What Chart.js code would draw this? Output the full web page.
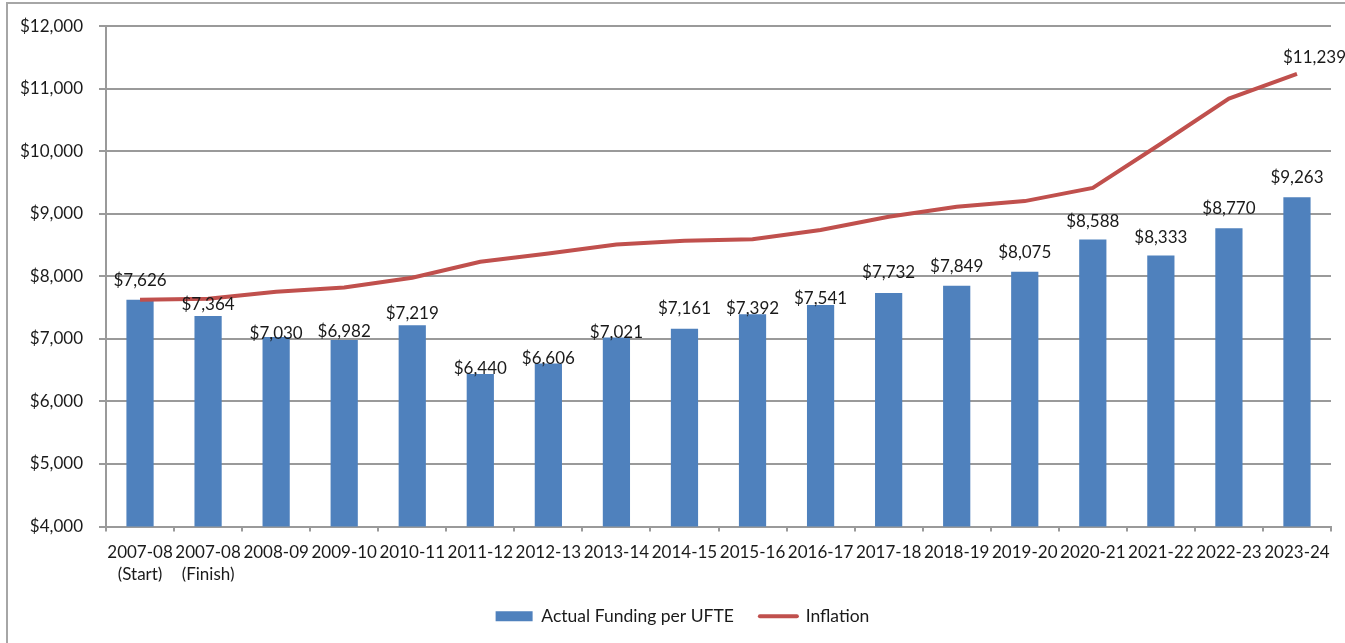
<!DOCTYPE html>
<html>
<head>
<meta charset="utf-8">
<script src="https://cdn.jsdelivr.net/npm/chart.js@4.4.0/dist/chart.umd.min.js"></script>
<style>
    html, body { margin: 0; padding: 0; background: #fff; }
    #frame {
        position: absolute; left: 6px; top: 2px; width: 1400px; height: 700px;
        border-left: 2px solid #a6a6a6; border-top: 2px solid #a6a6a6;
    }
    #chart { position: absolute; left: 0; top: 0; }
</style>
</head>
<body>
<div id="frame"></div>
<canvas id="chart" width="1345" height="643"></canvas>
<script>
// Data
const categories = [
    ['2007-08', '(Start)'], ['2007-08', '(Finish)'], '2008-09', '2009-10', '2010-11',
    '2011-12', '2012-13', '2013-14', '2014-15', '2015-16', '2016-17', '2017-18',
    '2018-19', '2019-20', '2020-21', '2021-22', '2022-23', '2023-24'
];
const fundingPerUfte = [7626, 7364, 7030, 6982, 7219, 6440, 6606, 7021, 7161, 7392,
    7541, 7732, 7849, 8075, 8588, 8333, 8770, 9263];
const inflation = [7626, 7640, 7754, 7823, 7978, 8233, 8366, 8510, 8569, 8595,
    8740, 8952, 9112, 9203, 9415, 10121, 10842, 11239];
const yMin = 4000;
const yMax = 12000;
const yStep = 1000;

// gap (px) between a bar top and its label baseline; the original moved some by hand
const labelGap = [14, 6, -2, 3, 6, 0, 0, 0, 15, 0, 1, 15, 14, 14, 13, 13, 14, 14];

const BLUE = '#4F81BD';
const RED = '#C0504D';
const GRID = '#9a9a9a';
const TEXT = '#1a1a1a';
const FONT = { family: 'Lato', size: 17 };

const money = v => '$' + Number(v).toLocaleString('en-US');

// Value labels on top of the bars + last inflation value
const valueLabels = {
    id: 'valueLabels',
    afterDatasetsDraw(chart) {
        const ctx = chart.ctx;
        ctx.save();
        ctx.font = '17px Lato';
        ctx.fillStyle = TEXT;
        ctx.textAlign = 'center';
        ctx.textBaseline = 'alphabetic';
        chart.getDatasetMeta(0).data.forEach((bar, i) => {
            ctx.fillText(money(fundingPerUfte[i]), bar.x, bar.y - labelGap[i]);
        });
        const pts = chart.getDatasetMeta(1).data;
        const last = pts[pts.length - 1];
        ctx.textAlign = 'left';
        ctx.fillText(money(inflation[inflation.length - 1]), last.x - 14, last.y - 11);
        ctx.restore();
    }
};

// legend in the original sits a little right of the page centre
const legendShift = {
    id: 'legendShift',
    afterLayout(chart) {
        if (chart.legend) chart.legend.left += 34;
    }
};

const ctx = document.getElementById('chart').getContext('2d');
new Chart(ctx, {
    type: 'bar',
    data: {
        labels: categories,
        datasets: [
            {
                type: 'bar',
                label: 'Actual Funding per UFTE',
                data: fundingPerUfte,
                backgroundColor: BLUE,
                categoryPercentage: 1,
                barPercentage: 0.4,
                order: 2
            },
            {
                type: 'line',
                label: 'Inflation',
                data: inflation,
                borderColor: RED,
                borderWidth: 4,
                pointRadius: 0,
                tension: 0,
                fill: false,
                order: 1
            }
        ]
    },
    options: {
        responsive: false,
        animation: false,
        layout: { padding: { top: 24, right: 14, left: 0, bottom: 8 } },
        plugins: {
            tooltip: { enabled: false },
            legend: {
                position: 'bottom',
                labels: {
                    font: { family: 'Lato', size: 17.5 },
                    color: TEXT,
                    usePointStyle: true,
                    pointStyleWidth: 37,
                    boxHeight: 10,
                    padding: 26,
                    generateLabels: () => [
                        { text: 'Actual Funding per UFTE', fillStyle: BLUE, strokeStyle: BLUE,
                          lineWidth: 0, pointStyle: 'rect', datasetIndex: 0, fontColor: TEXT },
                        { text: 'Inflation', fillStyle: RED, strokeStyle: RED, lineWidth: 4,
                          lineCap: 'round', pointStyle: 'line', datasetIndex: 1, fontColor: TEXT }
                    ]
                }
            }
        },
        scales: {
            x: {
                grid: { drawOnChartArea: false, drawTicks: true, tickLength: 5, color: GRID, lineWidth: 2, offset: true },
                border: { color: GRID, width: 2 },
                ticks: { font: { ...FONT, lineHeight: 1.3 }, color: TEXT, padding: 10, maxRotation: 0, autoSkip: false },
                afterFit(scale) { scale.height = 55; }
            },
            y: {
                min: yMin,
                max: yMax,
                ticks: { stepSize: yStep, callback: v => money(v), font: FONT, color: TEXT, padding: 16 },
                grid: { color: GRID, lineWidth: 2, tickLength: 7 },
                border: { color: GRID, width: 2 },
                afterFit(scale) { scale.width = 106; }
            }
        }
    },
    plugins: [valueLabels, legendShift]
});
</script>
</body>
</html>
